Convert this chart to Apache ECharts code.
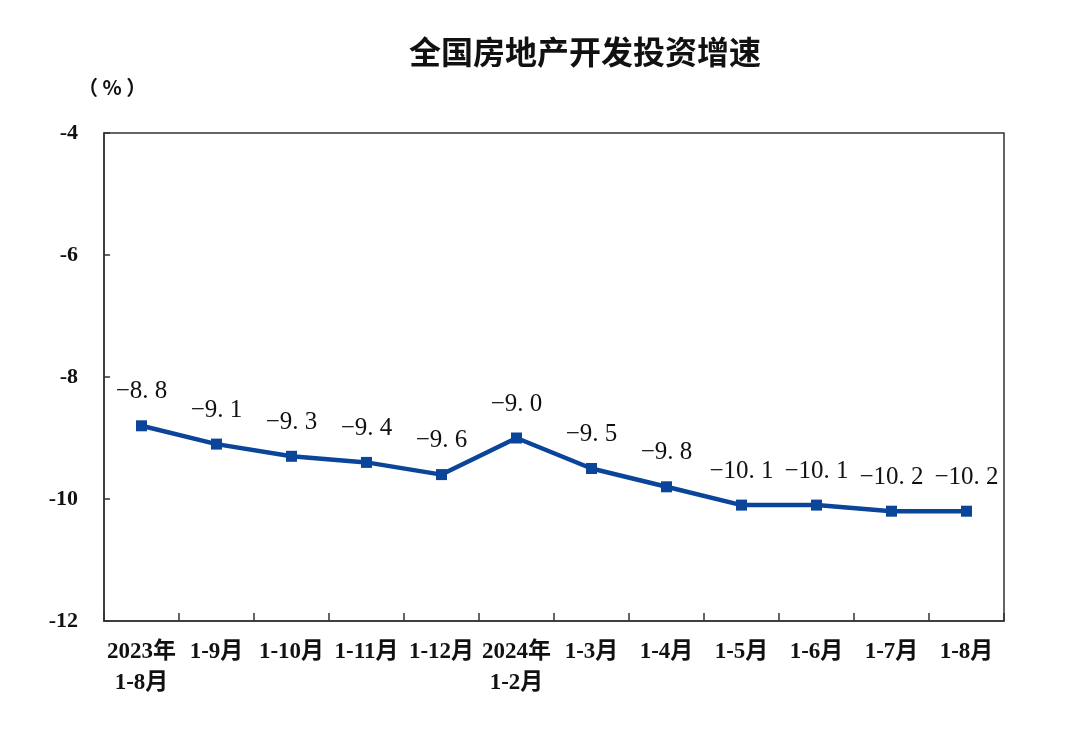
<!DOCTYPE html>
<html>
<head>
<meta charset="utf-8">
<script src="https://cdn.jsdelivr.net/npm/echarts@6/dist/echarts.min.js"></script>
<style>
html, body { margin: 0; padding: 0; background: #fff; }
#chart { width: 1080px; height: 733px; }
</style>
</head>
<body>
<div id="chart"></div>
<script>
// 全国房地产开发投资增速
var months = ['2023年\n1-8月', '1-9月', '1-10月', '1-11月', '1-12月', '2024年\n1-2月',
    '1-3月', '1-4月', '1-5月', '1-6月', '1-7月', '1-8月'];
var growth = [-8.8, -9.1, -9.3, -9.4, -9.6, -9.0, -9.5, -9.8, -10.1, -10.1, -10.2, -10.2];
var yTicks = [-12, -10, -8, -6, -4];

var serif = 'Liberation Serif, "Times New Roman", "Noto Sans CJK SC", serif';
var dom = document.getElementById('chart');
var myChart = echarts.init(dom);
var option = {
    backgroundColor: '#fff',
    animation: false,
    title: {
        text: '全国房地产开发投资增速',
        left: 580,
        top: 31,
        textAlign: 'center',
        textStyle: { fontFamily: '"Noto Sans CJK SC"', fontWeight: 'bold', fontSize: 32, color: '#111' }
    },
    graphic: [{
        type: 'text',
        left: 78,
        top: 77,
        style: { text: '（ % ）', font: 'bold 20px "Noto Sans CJK SC"', fill: '#111' }
    }],
    grid: {
        left: 104, right: 76, top: 133, bottom: 112,
        show: true, borderColor: '#333', borderWidth: 1.5
    },
    xAxis: {
        type: 'category',
        data: months,
        boundaryGap: true,
        axisLine: { lineStyle: { color: '#333', width: 1.5 } },
        axisTick: { show: true, inside: true, length: 8, alignWithLabel: false, lineStyle: { color: '#333', width: 1.5 } },
        axisLabel: {
            interval: 0, margin: 16, lineHeight: 31,
            fontFamily: serif, fontWeight: 'bold', fontSize: 23, color: '#111'
        }
    },
    yAxis: {
        type: 'value',
        min: yTicks[0],
        max: yTicks[yTicks.length - 1],
        interval: 2,
        splitLine: { show: false },
        axisLine: { show: true, lineStyle: { color: '#333', width: 1.5 } },
        axisTick: { show: true, inside: true, length: 6, lineStyle: { color: '#333', width: 1.5 } },
        axisLabel: {
            margin: 26, fontFamily: serif, fontWeight: 'bold', fontSize: 22, color: '#111'
        }
    },
    series: [{
        type: 'line',
        data: growth,
        symbol: 'rect',
        symbolSize: 11,
        lineStyle: { color: '#0a4599', width: 4.5 },
        itemStyle: { color: '#0a4599' },
        label: {
            show: true,
            position: 'top',
            distance: 16,
            fontFamily: serif,
            fontSize: 25,
            color: '#111',
            formatter: function (p) {
                return p.value.toFixed(1).replace('-', '−').replace('.', '. ');
            }
        }
    }]
};
myChart.setOption(option);
</script>
</body>
</html>
